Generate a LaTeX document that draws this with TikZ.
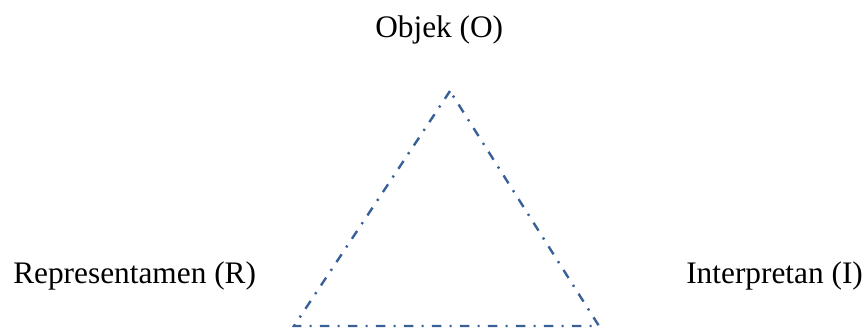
\documentclass[tikz,border=0pt]{standalone}
\usepackage{fontspec}
\setmainfont{Liberation Serif}
\usepackage{tikz}
\usetikzlibrary{positioning, calc}

\begin{document}
\begin{tikzpicture}[x=0.75pt, y=-0.75pt, font=\fontsize{23.5}{28}\selectfont]
    \definecolor{c1}{RGB}{58, 96, 152}
    \tikzset{lbl/.style={inner sep=0pt, anchor=base west},
             side/.style={draw=c1, line width=1.8pt, dash pattern=on 7pt off 6.2pt on 1.6pt off 6.2pt}}
    \useasboundingbox (0,0) rectangle (866,329);

    % corners of the triangle
    \coordinate (o) at (450, 91);
    \coordinate (r) at (294, 326);
    \coordinate (i) at (599, 326);
    \draw[side] (o) -- (r) -- (i) -- cycle;

    % labels
    \node[lbl] (objek) at (375, 37) {Objek (O)};
    \node[lbl] (repr) at (13, 283) {Representamen (R)};
    \node[lbl] (interp) at (686, 283) {Interpretan (I)};
\end{tikzpicture}
\end{document}
